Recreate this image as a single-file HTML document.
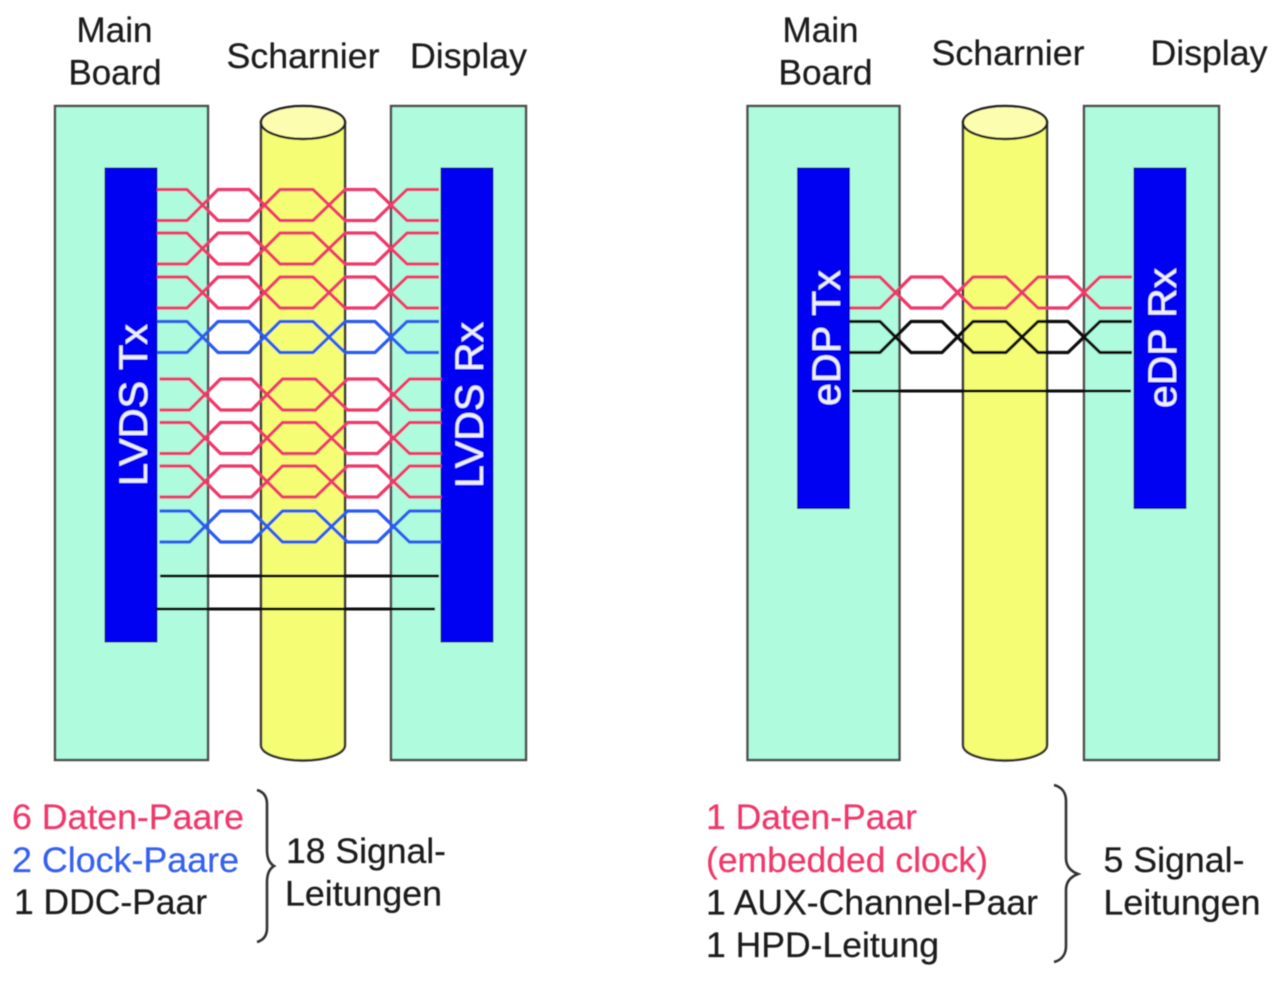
<!DOCTYPE html>
<html lang="de">
<head>
<meta charset="utf-8">
<title>LVDS und eDP</title>
<style>
html,body{margin:0;padding:0;background:#fff;width:1280px;height:990px;overflow:hidden}
svg{display:block}
text{font-family:"Liberation Sans",Arial,sans-serif;font-size:35px;fill:#1c1c1c;stroke:#1c1c1c;stroke-width:.25}
.p{fill:#f0386a;stroke:#f0386a}
.b{fill:#3560f0;stroke:#3560f0}
.w{fill:#eef0ff;stroke:#eef0ff;font-size:40px}
.box{fill:#aefbdd;stroke:#4c4c4c;stroke-width:2.4}
.cyl{fill:#f5fd75;stroke:#333;stroke-width:2.4}
.top{fill:#fdfdb0;stroke:#222;stroke-width:2.4}
.chip{fill:#0000f2;stroke:#10104a;stroke-width:1}
.pair{fill:none;stroke-width:3.3;stroke-linejoin:round}
.line{stroke:#0c0c0c;stroke-width:2.9}
.brace{fill:none;stroke:#333;stroke-width:2.6}
</style>
</head>
<body>
<svg width="1280" height="990" viewBox="0 0 1280 990" xmlns="http://www.w3.org/2000/svg">
<defs>
<filter id="soft" x="0" y="0" width="100%" height="100%" filterUnits="userSpaceOnUse" primitiveUnits="userSpaceOnUse">
<feGaussianBlur stdDeviation="0.65"/>
</filter>
<g id="tw">
<path d="M157 0H187L218 31H249L280 0H313L345 31H375L407 0H439"/>
<path d="M157 31H187L218 0H249L280 31H313L345 0H375L407 31H439"/>
</g>
</defs>
<g filter="url(#soft)">
<!-- Left diagram -->
<rect class="box" x="55" y="106" width="153" height="654"/>
<rect class="box" x="391" y="106" width="135" height="654"/>
<path class="cyl" d="M261 122V745C261 754 280 760.500 303 760.500S345 754 345 745V122Z"/>
<ellipse class="top" cx="303" cy="122.500" rx="42" ry="16.500"/>
<rect class="chip" x="105" y="168" width="52" height="474"/>
<rect class="chip" x="441" y="168" width="52" height="474"/>
<g class="pair" stroke="#f0386a">
<use href="#tw" x="0" y="189.500"/>
<use href="#tw" x="0" y="233"/>
<use href="#tw" x="0" y="277"/>
<use href="#tw" x="2.500" y="379"/>
<use href="#tw" x="2.500" y="422.500"/>
<use href="#tw" x="2.500" y="466"/>
</g>
<g class="pair" stroke="#2a5cf2">
<use href="#tw" x="0" y="321.500"/>
<use href="#tw" x="2.500" y="511"/>
</g>
<line class="line" x1="160" y1="576" x2="439" y2="576"/>
<line class="line" x1="156" y1="609" x2="435" y2="609"/>
<text class="w" transform="translate(147 486) rotate(-90)" textLength="162" lengthAdjust="spacingAndGlyphs">LVDS Tx</text>
<text class="w" transform="translate(483 488) rotate(-90)" textLength="166" lengthAdjust="spacingAndGlyphs">LVDS Rx</text>
<text x="76.500" y="42" textLength="76" lengthAdjust="spacingAndGlyphs">Main</text>
<text x="68.500" y="84.500" textLength="93" lengthAdjust="spacingAndGlyphs">Board</text>
<text x="226.500" y="68" textLength="153" lengthAdjust="spacingAndGlyphs">Scharnier</text>
<text x="410" y="68" textLength="117" lengthAdjust="spacingAndGlyphs">Display</text>
<text class="p" x="12" y="829" textLength="232" lengthAdjust="spacingAndGlyphs">6 Daten-Paare</text>
<text class="b" x="12" y="872" textLength="227" lengthAdjust="spacingAndGlyphs">2 Clock-Paare</text>
<text x="14" y="914" textLength="193" lengthAdjust="spacingAndGlyphs">1 DDC-Paar</text>
<text x="286" y="863" textLength="160" lengthAdjust="spacingAndGlyphs">18 Signal-</text>
<text x="285" y="905.500" textLength="157" lengthAdjust="spacingAndGlyphs">Leitungen</text>
<path class="brace" d="M257 790C264 792 267 797 267 804V850C267 858 269 863 274 866C269 869 267 874 267 882V928C267 935 264 940 257 942"/>
<!-- Right diagram -->
<rect class="box" x="747.500" y="106" width="152" height="654"/>
<rect class="box" x="1084" y="106" width="135" height="654"/>
<path class="cyl" d="M963 122V745C963 754 982 760.500 1005 760.500S1047 754 1047 745V122Z"/>
<ellipse class="top" cx="1005" cy="122.500" rx="42" ry="16.500"/>
<rect class="chip" x="797.500" y="168" width="52" height="340.500"/>
<rect class="chip" x="1134" y="168" width="52" height="340.500"/>
<g class="pair" stroke="#f0386a">
<use href="#tw" x="693" y="277"/>
</g>
<g class="pair" stroke="#111">
<use href="#tw" x="693" y="321.500"/>
</g>
<line class="line" x1="852" y1="391" x2="1131" y2="391"/>
<text class="w" transform="translate(840 406) rotate(-90)" textLength="136" lengthAdjust="spacingAndGlyphs">eDP Tx</text>
<text class="w" transform="translate(1176 408) rotate(-90)" textLength="140" lengthAdjust="spacingAndGlyphs">eDP Rx</text>
<text x="782.500" y="42" textLength="76" lengthAdjust="spacingAndGlyphs">Main</text>
<text x="778.500" y="84.500" textLength="94" lengthAdjust="spacingAndGlyphs">Board</text>
<text x="931.500" y="65" textLength="153" lengthAdjust="spacingAndGlyphs">Scharnier</text>
<text x="1150.500" y="65" textLength="117" lengthAdjust="spacingAndGlyphs">Display</text>
<text class="p" x="706" y="829" textLength="211" lengthAdjust="spacingAndGlyphs">1 Daten-Paar</text>
<text class="p" x="706" y="872" textLength="282" lengthAdjust="spacingAndGlyphs">(embedded clock)</text>
<text x="706" y="914.500" textLength="332" lengthAdjust="spacingAndGlyphs">1 AUX-Channel-Paar</text>
<text x="706" y="957" textLength="233" lengthAdjust="spacingAndGlyphs">1 HPD-Leitung</text>
<text x="1103.500" y="872" textLength="141" lengthAdjust="spacingAndGlyphs">5 Signal-</text>
<text x="1103.500" y="914.500" textLength="157" lengthAdjust="spacingAndGlyphs">Leitungen</text>
<path class="brace" d="M1054 785C1062 787 1066 793 1066 801V858C1066 866 1070 871 1078 874C1070 877 1066 882 1066 890V946C1066 954 1062 960 1054 962"/>
</g>
</svg>
</body>
</html>
